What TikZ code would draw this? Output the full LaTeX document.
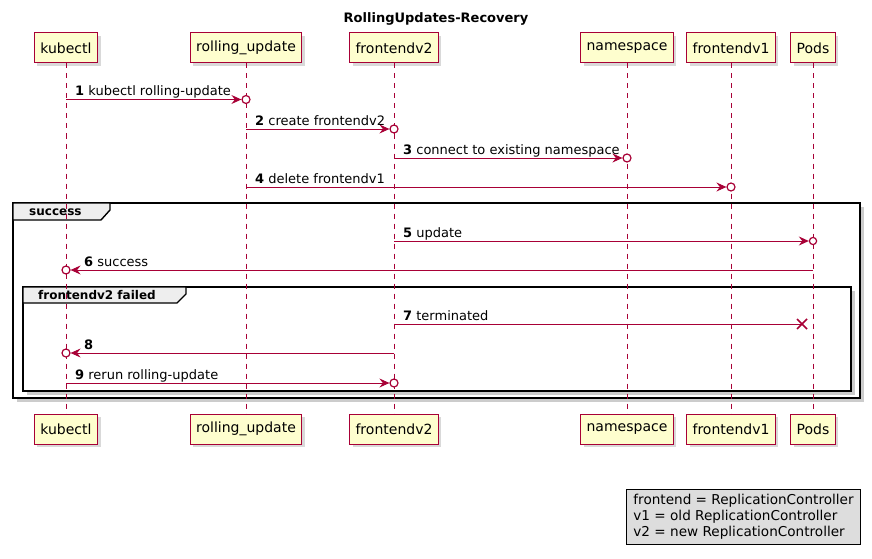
\documentclass[tikz,border=0pt]{standalone}
\usepackage{fontspec}
\setmainfont{DejaVu Sans}
\usetikzlibrary{shadows,calc,arrows.meta,backgrounds}
\definecolor{umlred}{HTML}{A80036}
\definecolor{umlfill}{HTML}{FEFECE}
\definecolor{tabfill}{HTML}{EEEEEE}
\definecolor{legfill}{HTML}{DDDDDD}
\tikzset{
  partbox/.style={draw=umlred, fill=umlfill, line width=1pt, minimum height=30pt,
    inner xsep=6pt, font=\fontsize{14}{16}\selectfont,
    drop shadow={shadow xshift=3pt, shadow yshift=-3pt, opacity=0.3}},
  lifeline/.style={draw=umlred, line width=0.8pt, dash pattern=on 5pt off 5pt},
  msgline/.style={draw=umlred, line width=0.9pt},
  msgarrow/.style={msgline, -{Stealth[length=10pt,width=9pt,inset=3.5pt]}},
  recvcirc/.style={draw=umlred, line width=1.2pt, fill=white},
  killmark/.style={draw=umlred, line width=1.6pt},
  msglabel/.style={anchor=base west, inner sep=0pt, font=\fontsize{13}{15}\selectfont},
  grpframe/.style={draw=black, line width=2pt, fill=white,
    drop shadow={shadow xshift=4pt, shadow yshift=-4pt, opacity=0.4}},
  grptab/.style={draw=black, line width=1.4pt, fill=tabfill},
  grplabel/.style={anchor=west, inner sep=0pt, font=\fontsize{12}{14}\selectfont\bfseries},
  legendbox/.style={draw=black, line width=0.8pt, fill=legfill, align=left,
    inner xsep=7pt, inner ysep=5pt, font=\fontsize{13.6}{16}\selectfont},
}
\begin{document}
\begin{tikzpicture}[x=1pt,y=-1pt]
\useasboundingbox (0,0) rectangle (872,559);

% title
\node[font=\fontsize{13}{15}\selectfont\bfseries] (title) at (436,19) {RollingUpdates-Recovery};

% participants (top)
\node[partbox] (kt) at (66,48) {kubectl};
\node[partbox] (rt) at (246,48) {rolling\_update};
\node[partbox] (ft) at (394,48) {frontendv2};
\node[partbox] (nt) at (627,48) {namespace};
\node[partbox] (vt) at (731,48) {frontendv1};
\node[partbox] (pt) at (813,48) {Pods};
% participants (bottom)
\node[partbox] (kb) at (66,429) {kubectl};
\node[partbox] (rb) at (246,429) {rolling\_update};
\node[partbox] (fb) at (394,429) {frontendv2};
\node[partbox] (nb) at (627,429) {namespace};
\node[partbox] (vb) at (731,429) {frontendv1};
\node[partbox] (pb) at (813,429) {Pods};

% group frames
\begin{scope}[on background layer]
  \draw[grpframe] (13,203) rectangle (860,398);
  \draw[grptab] (13,203) -- (110,203) -- (110,210) -- (101,220) -- (13,220) -- cycle;
  \draw[grpframe] (23,287) rectangle (851,391);
  \draw[grptab] (23,287) -- (186,287) -- (186,294) -- (177,303) -- (23,303) -- cycle;
\end{scope}
\node[grplabel] (g1) at (29,212) {success};
\node[grplabel] (g2) at (38,295.5) {frontendv2 failed};

% lifelines
\foreach \p in {k,r,f,n,v,p}{
  \draw[lifeline] (\p t.south) -- (\p b.north);
}

% message levels
\coordinate (m1) at (0,99.5);
\coordinate (m2) at (0,129);
\coordinate (m3) at (0,158);
\coordinate (m4) at (0,187);
\coordinate (m5) at (0,241);
\coordinate (m6) at (0,270);
\coordinate (m7) at (0,324);
\coordinate (m8) at (0,353);
\coordinate (m9) at (0,383);

% 1
\draw[msgarrow] (kt |- m1) -- ($(rt |- m1)+(-4.6,0)$);
\draw[recvcirc] (rt |- m1) circle[radius=4pt];
\node[msglabel] (l1) at ($(kt |- m1)+(9,-4)$) {\textbf{1} kubectl rolling-update};
% 2
\draw[msgarrow] (rt |- m2) -- ($(ft |- m2)+(-4.6,0)$);
\draw[recvcirc] (ft |- m2) circle[radius=4pt];
\node[msglabel] (l2) at ($(rt |- m2)+(9,-4)$) {\textbf{2} create frontendv2};
% 3
\draw[msgarrow] (ft |- m3) -- ($(nt |- m3)+(-4.6,0)$);
\draw[recvcirc] (nt |- m3) circle[radius=4pt];
\node[msglabel] (l3) at ($(ft |- m3)+(9,-4)$) {\textbf{3} connect to existing namespace};
% 4
\draw[msgarrow] (rt |- m4) -- ($(vt |- m4)+(-4.6,0)$);
\draw[recvcirc] (vt |- m4) circle[radius=4pt];
\node[msglabel] (l4) at ($(rt |- m4)+(9,-4)$) {\textbf{4} delete frontendv1};
% 5
\draw[msgarrow] (ft |- m5) -- ($(pt |- m5)+(-4.2,0)$);
\draw[recvcirc] (pt |- m5) circle[radius=3.6pt];
\node[msglabel] (l5) at ($(ft |- m5)+(9,-4)$) {\textbf{5} update};
% 6
\draw[msgarrow] (pt |- m6) -- ($(kt |- m6)+(4.6,0)$);
\draw[recvcirc] (kt |- m6) circle[radius=4pt];
\node[msglabel] (l6) at ($(kt |- m6)+(18,-4)$) {\textbf{6} success};
% 7
\coordinate (x7) at ($(pt |- m7)+(-11,0)$);
\draw[msgline] (ft |- m7) -- (x7);
\draw[killmark] ($(x7)+(-5,-5)$) -- ($(x7)+(5,5)$);
\draw[killmark] ($(x7)+(-5,5)$) -- ($(x7)+(5,-5)$);
\node[msglabel] (l7) at ($(ft |- m7)+(9,-4)$) {\textbf{7} terminated};
% 8
\draw[msgarrow] (ft |- m8) -- ($(kt |- m8)+(4.6,0)$);
\draw[recvcirc] (kt |- m8) circle[radius=4pt];
\node[msglabel] (l8) at ($(kt |- m8)+(18,-4)$) {\textbf{8}};
% 9
\draw[msgarrow] (kt |- m9) -- ($(ft |- m9)+(-4.6,0)$);
\draw[recvcirc] (ft |- m9) circle[radius=4pt];
\node[msglabel] (l9) at ($(kt |- m9)+(9,-4)$) {\textbf{9} rerun rolling-update};

% legend
\node[legendbox, anchor=north east] (legend) at (861,489)
  {frontend = ReplicationController\\v1 = old ReplicationController\\v2 = new ReplicationController};
\end{tikzpicture}
\end{document}
